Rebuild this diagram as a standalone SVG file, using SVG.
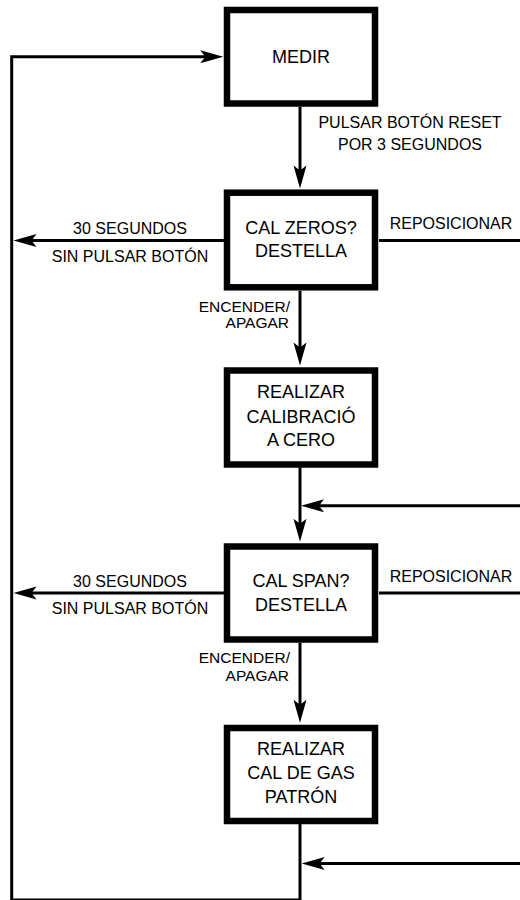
<svg xmlns="http://www.w3.org/2000/svg" width="520" height="900" viewBox="0 0 520 900">
<style>
.box{fill:#fff;stroke:#000;stroke-width:6.5}
.bt{font-family:"Liberation Sans",Arial,sans-serif;font-size:18px;fill:#000;text-anchor:middle}
.lb{font-family:"Liberation Sans",Arial,sans-serif;font-size:16px;fill:#000}
.sm{font-size:15.5px}
.c{fill:none;stroke:#000;stroke-width:3}
.a{marker-end:url(#arr)}
</style>
<defs>
<marker id="arr" markerUnits="userSpaceOnUse" viewBox="-15 -8 27 16" markerWidth="27" markerHeight="16" refX="0" refY="0" orient="auto" overflow="visible">
<path d="M10,0 L-13,-6.5 L-8,0 L-13,6.5 Z" fill="#000"/>
</marker>
</defs>
<rect width="520" height="900" fill="#fff"/>
<g id="connectors">
<path class="c a" d="M300,823 V900 H11.7 V56.7 H213.3"/>
<path class="c a" d="M300,106.7 V178.5"/>
<path class="c a" d="M224,240.5 H23.5"/>
<path class="c" d="M379,240.5 H520"/>
<path class="c a" d="M300,290.7 V355.5"/>
<path class="c a" d="M300,467.3 V531.7"/>
<path class="c a" d="M520,505.7 H311"/>
<path class="c a" d="M224,593 H23.5"/>
<path class="c" d="M379,593 H520"/>
<path class="c a" d="M300,642.7 V712.7"/>
<path class="c a" d="M520,863.5 H311.7"/>
</g>
<g id="labels">
<text class="lb" x="410" y="128" text-anchor="middle">PULSAR BOTÓN RESET</text>
<text class="lb" x="410" y="150" text-anchor="middle">POR 3 SEGUNDOS</text>
<text class="lb" x="130" y="234" text-anchor="middle">30 SEGUNDOS</text>
<text class="lb" x="130" y="261.5" text-anchor="middle">SIN PULSAR BOTÓN</text>
<text class="lb" x="451" y="229.3" text-anchor="middle">REPOSICIONAR</text>
<text class="lb sm" x="290" y="312" text-anchor="end">ENCENDER/</text>
<text class="lb sm" x="289" y="327.5" text-anchor="end">APAGAR</text>
<text class="lb" x="130" y="587.3" text-anchor="middle">30 SEGUNDOS</text>
<text class="lb" x="130" y="614.3" text-anchor="middle">SIN PULSAR BOTÓN</text>
<text class="lb" x="451" y="582.3" text-anchor="middle">REPOSICIONAR</text>
<text class="lb sm" x="290" y="663" text-anchor="end">ENCENDER/</text>
<text class="lb sm" x="289" y="680.5" text-anchor="end">APAGAR</text>
</g>
<g id="medir">
<rect class="box" x="227" y="10" width="148" height="93.5"/>
<text class="bt" x="301" y="62.5">MEDIR</text>
</g>
<g id="cal-zeros">
<rect class="box" x="227" y="192.7" width="148" height="94.6"/>
<text class="bt" x="301" y="234">CAL ZEROS?</text>
<text class="bt" x="301" y="257.3">DESTELLA</text>
</g>
<g id="realizar-cero">
<rect class="box" x="227" y="370.5" width="148" height="94"/>
<text class="bt" x="301" y="398.3">REALIZAR</text>
<text class="bt" x="301" y="422.7">CALIBRACIÓ</text>
<text class="bt" x="301" y="446">A CERO</text>
</g>
<g id="cal-span">
<rect class="box" x="227" y="546.5" width="148" height="93"/>
<text class="bt" x="301" y="587.3">CAL SPAN?</text>
<text class="bt" x="301" y="610.7">DESTELLA</text>
</g>
<g id="realizar-gas">
<rect class="box" x="227" y="728" width="148" height="93"/>
<text class="bt" x="301" y="755">REALIZAR</text>
<text class="bt" x="301" y="779.3">CAL DE GAS</text>
<text class="bt" x="301" y="802.7">PATRÓN</text>
</g>
</svg>
